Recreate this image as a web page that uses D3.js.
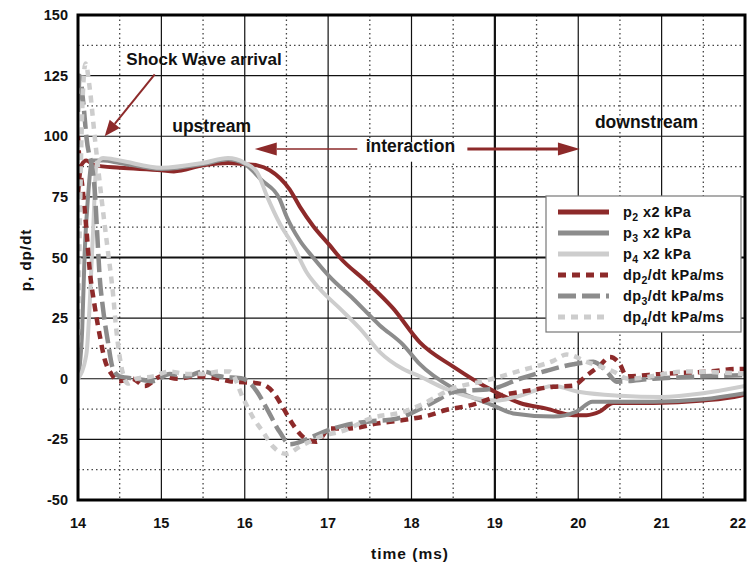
<!DOCTYPE html>
<html>
<head>
<meta charset="utf-8">
<script src="https://cdn.jsdelivr.net/npm/d3@7"></script>
<style>
  body { margin: 0; background: #fff; }
  text { font-family: "Liberation Sans", Arial, sans-serif; font-weight: bold; fill: #111; }
</style>
</head>
<body>
<div id="chart"></div>
<script>
// values: [time ms, value]
let p2 = [[14.0,75],[14.04,88],[14.1,90],[14.2,88],[14.5,87],[15.0,86],[15.15,85.5],[15.5,88],[15.8,89],[16.0,88.5],[16.15,88],[16.3,86],[16.54,78],[16.66,71],[16.82,63],[17.02,55],[17.14,50],[17.46,40],[17.78,29],[18.1,15],[18.5,5],[18.98,-5],[19.3,-10],[19.62,-12.3],[19.94,-15],[20.1,-15],[20.26,-13.5],[20.42,-10],[20.9,-10],[21.5,-9],[21.94,-7],[22,-6.5]];
let p3 = [[14.0,0],[14.05,20],[14.08,52],[14.12,75],[14.17,90],[14.3,90],[14.5,89],[15.0,86.5],[15.5,88.5],[15.8,90.5],[16.0,88.5],[16.2,82],[16.42,74],[16.5,67],[16.66,57],[16.82,50],[17.02,42],[17.3,33],[17.62,22],[17.9,14],[18.1,6],[18.5,-4],[18.98,-11],[19.22,-14.3],[19.7,-15.6],[19.98,-13.5],[20.17,-9.5],[20.9,-9.5],[21.5,-8.5],[22,-6]];
let p4 = [[14.0,0],[14.1,10],[14.18,60],[14.22,88],[14.3,91],[14.5,90],[15.0,87],[15.5,89],[15.8,91],[16.0,89],[16.15,85],[16.27,75],[16.42,64],[16.58,55],[16.74,44],[16.9,37],[17.14,29],[17.4,20],[17.62,11],[17.9,4],[18.1,1],[18.4,-4],[18.7,-7.5],[19.02,-9],[19.3,-7],[19.7,-3],[20.02,-5.5],[20.5,-7],[21.0,-7.5],[21.5,-6],[22,-3]];
let dp2 = [[14.0,100],[14.02,88],[14.05,80],[14.1,62],[14.14,45],[14.2,30],[14.26,18],[14.32,8],[14.4,2],[14.5,-1],[14.65,0],[14.8,-3],[15.0,1],[15.2,0],[15.4,1],[15.6,0.5],[15.82,-1],[16.18,-2],[16.34,-5.5],[16.46,-12],[16.58,-19],[16.7,-24],[16.86,-26],[17.02,-20.5],[17.26,-20.5],[17.58,-18.5],[17.9,-17],[18.22,-15],[18.4,-13],[18.7,-11],[19.06,-7],[19.38,-5],[19.7,-3.3],[19.94,-2.8],[20.1,1.3],[20.26,5.5],[20.38,9],[20.5,6],[20.58,1],[21.0,2],[21.58,3],[21.9,4],[22,4]];
let dp3 = [[14.0,110],[14.02,125],[14.06,115],[14.1,100],[14.2,78],[14.23,60],[14.26,42],[14.3,29],[14.36,15],[14.42,4],[14.5,1],[14.7,0],[14.9,-1],[15.1,2],[15.3,1],[15.5,3],[15.7,1],[15.98,0],[16.14,-5],[16.26,-12],[16.42,-22],[16.54,-27],[16.74,-25],[16.94,-22],[17.22,-19],[17.5,-17.6],[17.82,-16.5],[18.1,-12.5],[18.3,-9],[18.5,-5.5],[18.98,-4],[19.3,0],[19.62,3.3],[19.94,6],[20.18,7],[20.34,3],[20.46,-1.2],[20.9,0],[21.5,1],[22,1.5]];
let dp4 = [[14.0,15],[14.02,60],[14.05,110],[14.09,130],[14.14,120],[14.2,100],[14.28,75],[14.35,55],[14.42,35],[14.46,20],[14.5,9],[14.6,-2],[14.7,0],[14.9,1],[15.1,3],[15.3,2],[15.5,2],[15.7,3],[15.82,3],[15.98,-8],[16.1,-16],[16.22,-22],[16.34,-28],[16.5,-31],[16.66,-28],[16.9,-24],[17.22,-21],[17.5,-16.4],[17.9,-13.7],[18.1,-11],[18.5,-4],[18.9,-0.7],[19.3,3.3],[19.7,7.4],[19.86,10],[20.1,7],[20.42,3],[20.6,0],[21.3,3],[22,2]];

let xTicks = [14, 15, 16, 17, 18, 19, 20, 21, 22];
let yTicks = [-50, -25, 0, 25, 50, 75, 100, 125, 150];

let series = [
  { data: p2, color: "#8d2a2a", dash: null, label: ["p", "2", " x2 kPa"] },
  { data: p3, color: "#8c8c8c", dash: null, label: ["p", "3", " x2 kPa"] },
  { data: p4, color: "#cdcdcd", dash: null, label: ["p", "4", " x2 kPa"] },
  { data: dp2, color: "#8d2a2a", dash: "8,6", label: ["dp", "2", "/dt kPa/ms"] },
  { data: dp3, color: "#8c8c8c", dash: "18,6", label: ["dp", "3", "/dt kPa/ms"] },
  { data: dp4, color: "#cdcdcd", dash: "7,6", label: ["dp", "4", "/dt kPa/ms"] }
];

let W = 747, H = 565;
let margin = { top: 15, right: 2, bottom: 65, left: 78 },
  width = W - margin.left - margin.right,
  height = H - margin.top - margin.bottom;

let svg = d3.select("#chart").append("svg")
  .attr("width", W)
  .attr("height", H);

let g = svg.append("g")
  .attr("transform", `translate(${margin.left},${margin.top})`);

let x = d3.scaleLinear().domain([14, 22]).range([0, width]);
let y = d3.scaleLinear().domain([-50, 150]).range([height, 0]);

// minor dotted grid
g.selectAll(".vminor").data(d3.range(14.5, 22, 1)).join("line")
  .attr("x1", d => x(d)).attr("x2", d => x(d)).attr("y1", 0).attr("y2", height)
  .attr("stroke", "#444").attr("stroke-width", 1.3).attr("stroke-dasharray", "1.5,3");
g.selectAll(".hminor").data(d3.range(-37.5, 150, 25)).join("line")
  .attr("x1", 0).attr("x2", width).attr("y1", d => y(d)).attr("y2", d => y(d))
  .attr("stroke", "#444").attr("stroke-width", 1.3).attr("stroke-dasharray", "1.5,3");

// major grid
g.selectAll(".vmajor").data(xTicks).join("line")
  .attr("x1", d => x(d)).attr("x2", d => x(d)).attr("y1", 0).attr("y2", height)
  .attr("stroke", "#111").attr("stroke-width", d => d === 19 ? 2.2 : 1.2);
g.selectAll(".hmajor").data(yTicks).join("line")
  .attr("x1", 0).attr("x2", width).attr("y1", d => y(d)).attr("y2", d => y(d))
  .attr("stroke", "#111").attr("stroke-width", d => d === 50 ? 2.2 : 1.2);

// tick labels (last one pulled in so it stays on the page)
g.selectAll(".xl").data(xTicks).join("text")
  .attr("x", d => d === 22 ? width + 1 : x(d)).attr("y", height + 28)
  .attr("text-anchor", d => d === 22 ? "end" : "middle").attr("font-size", 14.5)
  .text(d => d);
g.selectAll(".yl").data(yTicks).join("text")
  .attr("x", -10).attr("y", d => y(d) + 5)
  .attr("text-anchor", "end").attr("font-size", 14.5)
  .text(d => d);

svg.append("text")
  .attr("x", 410).attr("y", 559)
  .attr("text-anchor", "middle").attr("font-size", 15.5)
  .attr("letter-spacing", 1)
  .text("time (ms)");
svg.append("text")
  .attr("transform", "translate(31,260) rotate(-90)")
  .attr("text-anchor", "middle").attr("font-size", 15.5)
  .attr("letter-spacing", 0.8)
  .text("p, dp/dt");

// annotations (in data units)
let red = "#8d2a2a";
function arrow(t1, v1, t2, v2, w, headLen, headW) {
  let x1 = x(t1), y1 = y(v1), x2 = x(t2), y2 = y(v2);
  let a = Math.atan2(y2 - y1, x2 - x1);
  let bx = x2 - headLen * Math.cos(a), by = y2 - headLen * Math.sin(a);
  g.append("line").attr("x1", x1).attr("y1", y1).attr("x2", bx).attr("y2", by)
    .attr("stroke", red).attr("stroke-width", w);
  let px = -Math.sin(a) * headW / 2, py = Math.cos(a) * headW / 2;
  g.append("path")
    .attr("d", `M${x2},${y2}L${bx + px},${by + py}L${bx - px},${by - py}Z`)
    .attr("fill", red);
}

g.append("rect")
  .attr("x", x(17.35)).attr("y", y(97.5))
  .attr("width", x(18.65) - x(17.35)).attr("height", y(89.5) - y(97.5))
  .attr("fill", "#fff");

let clip = svg.append("defs").append("clipPath").attr("id", "clip")
  .append("rect").attr("width", width).attr("height", height);

let line = d3.line()
  .x(d => x(d[0]))
  .y(d => y(d[1]))
  .curve(d3.curveMonotoneX);

let plot = g.append("g").attr("clip-path", "url(#clip)");
plot.selectAll(".series").data(series).join("path")
  .attr("d", d => line(d.data))
  .attr("fill", "none")
  .attr("stroke", d => d.color)
  .attr("stroke-width", d => d.dash ? 4.5 : 4)
  .attr("stroke-dasharray", d => d.dash)
  .attr("stroke-linejoin", "round");

arrow(14.92, 125.5, 14.32, 100, 2, 16, 13);
arrow(17.35, 94.7, 16.12, 94.7, 1.5, 22, 13);
arrow(18.67, 94.7, 20.02, 94.7, 3, 22, 13);

g.append("text").attr("x", x(14.58)).attr("y", y(129.4)).attr("font-size", 17).text("Shock Wave arrival");
g.append("text").attr("x", x(15.13)).attr("y", y(101.6)).attr("font-size", 17.5).text("upstream");
g.append("text").attr("x", x(17.45)).attr("y", y(93.4)).attr("font-size", 17.5).text("interaction");
g.append("text").attr("x", x(20.2)).attr("y", y(103.4)).attr("font-size", 17.5).text("downstream");

// frame
g.append("rect").attr("width", width).attr("height", height)
  .attr("fill", "none").attr("stroke", "#000").attr("stroke-width", 3);

// legend
let lg = svg.append("g").attr("transform", "translate(546,196)");
lg.append("rect").attr("width", 195).attr("height", 136)
  .attr("fill", "#fff").attr("stroke", "#777").attr("stroke-width", 1.2);
let item = lg.selectAll(".item").data(series).join("g")
  .attr("transform", (d, i) => `translate(0,${16 + i * 21})`);
item.append("line")
  .attr("x1", 12).attr("x2", 63)
  .attr("stroke", d => d.color).attr("stroke-width", 5)
  .attr("stroke-dasharray", d => d.dash);
let lt = item.append("text").attr("x", 77).attr("y", 5).attr("font-size", 14.5)
  .attr("letter-spacing", 0.4);
lt.append("tspan").text(d => d.label[0]);
lt.append("tspan").attr("dy", 4).attr("font-size", 10.5).text(d => d.label[1]);
lt.append("tspan").attr("dy", -4).text(d => d.label[2]);
</script>
</body>
</html>
